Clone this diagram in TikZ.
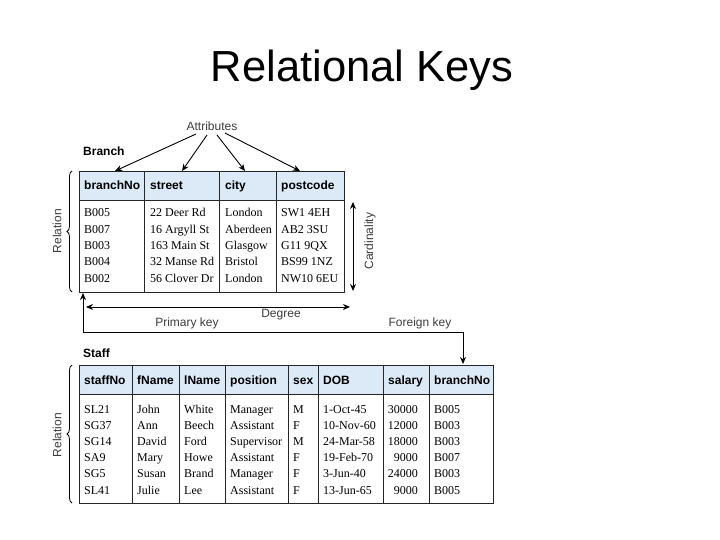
\documentclass[tikz,border=0pt]{standalone}
\usepackage{fontspec}
\setmainfont{Liberation Serif}
\newfontfamily\arialf{Liberation Sans}
\usetikzlibrary{arrows.meta,decorations.pathreplacing}
\definecolor{hdrblue}{RGB}{220,234,248}
\definecolor{lblgray}{RGB}{60,60,60}
\tikzset{
  cellline/.style={draw=black!85,line width=0.9pt},
  hdrbox/.style={cellline,fill=hdrblue},
  hdrtxt/.style={anchor=base west,inner sep=0pt,font=\arialf\bfseries\fontsize{12}{14}\selectfont},
  bodytxt/.style={anchor=base west,inner sep=0pt,font=\fontsize{12}{14}\selectfont},
  bodyr/.style={anchor=base east,inner sep=0pt,font=\fontsize{12}{14}\selectfont},
  lbl/.style={inner sep=0pt,text=lblgray,font=\arialf\fontsize{12}{14}\selectfont},
  tname/.style={anchor=base west,inner sep=0pt,font=\arialf\bfseries\fontsize{12}{14}\selectfont},
  arr/.style={-{Stealth[length=7pt,width=6pt]},line width=0.9pt},
  darr/.style={{Stealth[length=7pt,width=6pt]}-{Stealth[length=7pt,width=6pt]},line width=0.9pt},
  relbrace/.style={decorate,decoration={brace,amplitude=5pt,mirror},line width=0.8pt},
}
\begin{document}
\begin{tikzpicture}[x=1pt,y=-1pt]
\useasboundingbox (0,0) rectangle (720,540);
% title
\node[anchor=base,inner sep=0pt,font=\arialf\fontsize{43.5}{48}\selectfont] (title) at (362,82) {Relational Keys};

% ---------- Branch table ----------
\node[tname] (branchlbl) at (83,156) {Branch};
\node[hdrbox,minimum width=265pt,minimum height=29pt,anchor=north west,inner sep=0pt] (bhdr) at (79,171) {};
\node[cellline,minimum width=265pt,minimum height=92pt,anchor=north west,inner sep=0pt] (bbody) at (79,200) {};
\foreach \x in {144,219,276}{\draw[cellline] (\x,171) -- (\x,292);}
\node[hdrtxt] (h1) at (84,190) {branchNo};
\node[hdrtxt] (h2) at (150,190) {street};
\node[hdrtxt] (h3) at (225,190) {city};
\node[hdrtxt] (h4) at (281,190) {postcode};
\foreach \a/\b/\c/\d [count=\i] in {B005/22 Deer Rd/London/SW1 4EH,B007/16 Argyll St/Aberdeen/AB2 3SU,B003/163 Main St/Glasgow/G11 9QX,B004/32 Manse Rd/Bristol/BS99 1NZ,B002/56 Clover Dr/London/NW10 6EU}{
  \pgfmathsetmacro{\yy}{217+16.25*(\i-1)}
  \node[bodytxt] (b\i a) at (84,\yy) {\a};
  \node[bodytxt] (b\i b) at (150,\yy) {\b};
  \node[bodytxt] (b\i c) at (225,\yy) {\c};
  \node[bodytxt] (b\i d) at (281,\yy) {\d};
}
% attributes
\node[lbl] (attr) at (212,126) {Attributes};
\coordinate (t1) at (115,171);
\coordinate (t2) at (182,171);
\coordinate (t3) at (245,171);
\coordinate (t4) at (300,171);
\draw[arr] (196,134) -- (t1);
\draw[arr] (207,135) -- (t2);
\draw[arr] (217,135) -- (t3);
\draw[arr] (225,133) -- (t4);
% relation brace
\draw[relbrace] (72,171) -- (72,292);
\node[lbl,rotate=90] (rel1) at (57,231) {Relation};
% cardinality
\coordinate (c1) at (353,202);
\coordinate (c2) at (353,291);
\draw[darr] (c1) -- (c2);
\node[lbl,rotate=90] (card) at (370,241) {Cardinality};
% degree
\coordinate (d1) at (86,307);
\coordinate (d2) at (350,307);
\draw[darr] (d1) -- (d2);
\node[lbl] (deg) at (281,315) {Degree};
\node[lbl] (pk) at (187,323) {Primary key};
\node[lbl] (fk) at (420,323) {Foreign key};

% ---------- Staff table ----------
\node[tname] (stafflbl) at (83,357) {Staff};
\node[hdrbox,minimum width=414pt,minimum height=29pt,anchor=north west,inner sep=0pt] (shdr) at (79,365) {};
\node[cellline,minimum width=414pt,minimum height=109pt,anchor=north west,inner sep=0pt] (sbody) at (79,394) {};
\foreach \x in {132,179,225,288,318,383,429}{\draw[cellline] (\x,365) -- (\x,503);}
\node[hdrtxt] (s1) at (84,384) {staffNo};
\node[hdrtxt] (s2) at (137,384) {fName};
\node[hdrtxt] (s3) at (184,384) {lName};
\node[hdrtxt] (s4) at (230,384) {position};
\node[hdrtxt] (s5) at (293,384) {sex};
\node[hdrtxt] (s6) at (323,384) {DOB};
\node[hdrtxt] (s7) at (388,384) {salary};
\node[hdrtxt] (s8) at (434,384) {branchNo};
\foreach \a/\b/\c/\d/\e/\f/\g/\h [count=\i] in {SL21/John/White/Manager/M/1-Oct-45/30000/B005,SG37/Ann/Beech/Assistant/F/10-Nov-60/12000/B003,SG14/David/Ford/Supervisor/M/24-Mar-58/18000/B003,SA9/Mary/Howe/Assistant/F/19-Feb-70/9000/B007,SG5/Susan/Brand/Manager/F/3-Jun-40/24000/B003,SL41/Julie/Lee/Assistant/F/13-Jun-65/9000/B005}{
  \pgfmathsetmacro{\yy}{413+16.2*(\i-1)}
  \node[bodytxt] (r\i a) at (84,\yy) {\a};
  \node[bodytxt] (r\i b) at (137,\yy) {\b};
  \node[bodytxt] (r\i c) at (184,\yy) {\c};
  \node[bodytxt] (r\i d) at (230,\yy) {\d};
  \node[bodytxt] (r\i e) at (293,\yy) {\e};
  \node[bodytxt] (r\i f) at (323,\yy) {\f};
  \node[bodyr] (r\i g) at (418,\yy) {\g};
  \node[bodytxt] (r\i h) at (434,\yy) {\h};
}
\draw[relbrace] (72,365) -- (72,503);
\node[lbl,rotate=90] (rel2) at (57,435) {Relation};

% foreign key link
\coordinate (pkend) at (83,293);
\coordinate (fkend) at (463,364);
\draw[arr] (463,332) -- (83,332) -- (pkend);
\draw[arr] (463,332) -- (fkend);
\end{tikzpicture}
\end{document}
